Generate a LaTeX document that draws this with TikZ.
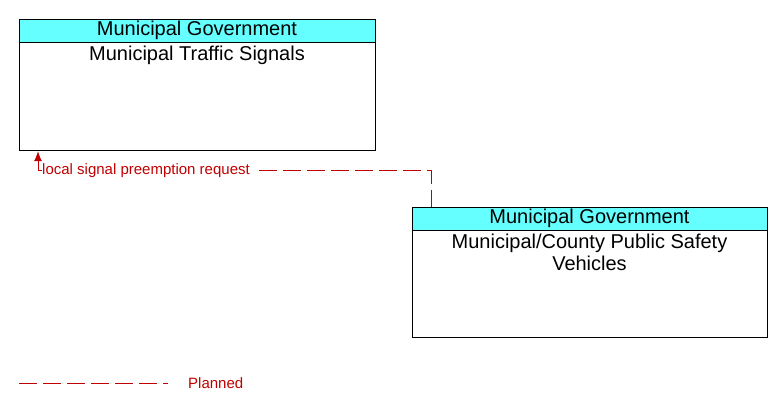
\documentclass[tikz,border=0pt]{standalone}
\usepackage{fontspec}
\setmainfont{Liberation Sans}
\usetikzlibrary{positioning,arrows.meta}
\definecolor{hdrcyan}{HTML}{66FFFF}
\definecolor{flowred}{HTML}{C00000}

\begin{document}
\begin{tikzpicture}[%
x=1pt, y=-1pt, >={Latex[length=10pt,width=8pt]},
header/.style={draw=black, fill=hdrcyan, line width=0.8pt, minimum height=23pt, inner sep=0pt, font=\fontsize{20}{22}\selectfont},
body/.style={draw=black, line width=0.8pt, inner sep=0pt},
title/.style={align=center, inner sep=0pt, font=\fontsize{20}{22.5}\selectfont},
planned/.style={draw=flowred, line width=0.8pt, dash pattern=on 18pt off 6pt},
flowlabel/.style={text=flowred, inner sep=0pt, font=\fontsize{15}{17}\selectfont}
]
\useasboundingbox (0,0) rectangle (783,412);
% elements
\node[header, minimum width=356pt] (mtsH) at (197,30.5) {Municipal Government};
\node[body, minimum width=356pt, minimum height=108pt, below=0pt of mtsH] (mts) {};
\node[title, below=3pt of mts.north] (mtsT) {Municipal Traffic Signals};
\node[header, minimum width=355pt] (psvH) at (589.5,218.5) {Municipal Government};
\node[body, minimum width=355pt, minimum height=107pt, below=0pt of psvH] (psv) {};
\node[title, below=3pt of psv.north] (psvT) {Municipal/County Public Safety\\Vehicles};
% flow
\coordinate (turn) at (431,170);
\coordinate (tip) at (38,170);
\coordinate (gap) at (259,170);
\node[flowlabel, anchor=west] (lsp) at (42,171) {local signal preemption request};
\draw[planned] (gap) -- (turn) -- (psvH.north -| turn);
\draw[draw=flowred, line width=0.8pt, ->] (lsp.west |- tip) -- (tip) -- (mts.south -| tip);
% legend
\coordinate (lgA) at (19,383);
\coordinate (lgB) at (168,383);
\draw[planned] (lgA) -- (lgB);
\node[flowlabel, anchor=west] (lgT) at (188,383) {Planned};
\end{tikzpicture}
\end{document}
